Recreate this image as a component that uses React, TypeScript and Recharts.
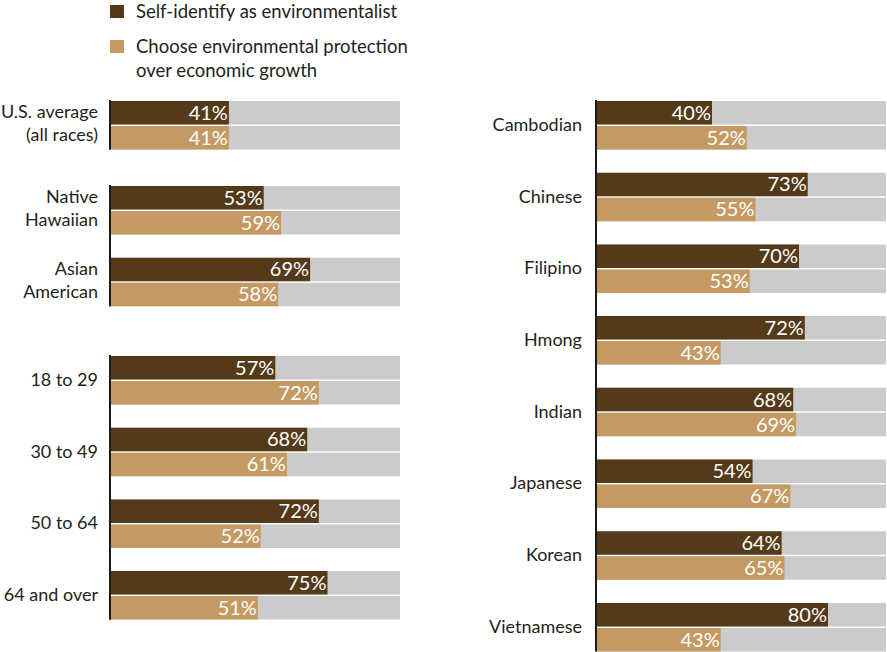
import { BarChart, Bar, XAxis, YAxis, LabelList } from 'recharts';

// series
const seriesNames = ['Self-identify as environmentalist', 'Choose environmental protection\nover economic growth'];

// left panel, first block
const usLabels = ['U.S. average\n(all races)'];
const usIdentify = [41];
const usProtect = [41];

// left panel, second block
const raceLabels = ['Native\nHawaiian', 'Asian\nAmerican'];
const raceIdentify = [53, 69];
const raceProtect = [59, 58];

// left panel, age block
const ageLabels = ['18 to 29', '30 to 49', '50 to 64', '64 and over'];
const ageIdentify = [57, 68, 72, 75];
const ageProtect = [72, 61, 52, 51];

// right panel
const originLabels = ['Cambodian', 'Chinese', 'Filipino', 'Hmong', 'Indian', 'Japanese', 'Korean', 'Vietnamese'];
const originIdentify = [40, 73, 70, 72, 68, 54, 64, 80];
const originProtect = [52, 55, 53, 43, 69, 67, 65, 43];

const DARK = '#553a19';
const LIGHT = '#c49a62';
const TRACK = '#cbcbcb';
const INK = '#231f20';
const FONT = 'Lato, "Noto Sans", sans-serif';

const PITCH = 71.7; // distance between groups
const PAD = 11; // pulls the band range out so the axis line only spans the bars
const M = 14;

// eslint-disable-next-line @typescript-eslint/no-explicit-any
const CategoryTick = (props: any) => {
  const { x, y, payload } = props;
  const lines = String(payload.value).split('\n');
  const first = lines.length > 1 ? -7 : 6;
  return (
    <text x={x} y={y} textAnchor="end" fill={INK} fontSize={18} fontFamily={FONT}>
      {lines.map((l, i) => (
        <tspan key={i} x={x} y={y + first + i * 23}>{l}</tspan>
      ))}
    </text>
  );
};

// eslint-disable-next-line @typescript-eslint/no-explicit-any
const ValueLabel = (props: any) => {
  const { x, y, width, height, value } = props;
  return (
    <text x={x + width - 1} y={y + height / 2 + 7} textAnchor="end" fill="#fff" fontSize={20} fontFamily={FONT}>
      {value}%
    </text>
  );
};

interface PanelProps {
  labels: string[];
  identify: number[];
  protect: number[];
  left: number;
  top: number;
  width: number;
  axisWidth: number;
  tickGap: number;
}

function Panel({ labels, identify, protect, left, top, width, axisWidth, tickGap }: PanelProps) {
  const data = labels.map((label, i) => ({ label, identify: identify[i], protect: protect[i] }));
  const plotH = labels.length * PITCH - 2 * PAD;
  return (
    <div style={{ position: 'absolute', left, top: top - M }}>
      <BarChart
        width={width}
        height={plotH + 2 * M}
        data={data}
        layout="vertical"
        margin={{ top: M, right: 0, bottom: M, left: 0 }}
        barSize={23.5}
        barGap={1.5}
      >
        <XAxis type="number" domain={[0, 100]} hide />
        <Bar dataKey="identify" fill={DARK} background={{ fill: TRACK }} isAnimationActive={false}>
          <LabelList dataKey="identify" content={ValueLabel} />
        </Bar>
        <Bar dataKey="protect" fill={LIGHT} background={{ fill: TRACK }} isAnimationActive={false}>
          <LabelList dataKey="protect" content={ValueLabel} />
        </Bar>
        <YAxis
          type="category"
          dataKey="label"
          width={axisWidth}
          padding={{ top: -PAD, bottom: -PAD }}
          tickLine={false}
          tickSize={0}
          tickMargin={tickGap}
          interval={0}
          axisLine={{ stroke: '#1a1a1a', strokeWidth: 2 }}
          tick={CategoryTick}
        />
      </BarChart>
    </div>
  );
}

export default function App() {
  return (
    <div
      style={{
        position: 'fixed', left: 0, top: 0, width: 887, height: 652,
        overflow: 'hidden', background: '#fff', fontFamily: FONT,
      }}
    >
      {/* legend */}
      <svg style={{ position: 'absolute', left: 100, top: 0 }} width={330} height={90}>
        <rect x={10} y={5} width={14} height={13} fill={DARK} />
        <text x={36} y={18} fill={INK} fontSize={18.5} fontFamily={FONT}>{seriesNames[0]}</text>
        <rect x={10} y={40} width={14} height={13} fill={LIGHT} />
        <text x={36} y={53} fill={INK} fontSize={18.5} fontFamily={FONT}>
          {seriesNames[1].split('\n').map((l, i) => (
            <tspan key={i} x={36} y={53 + i * 24}>{l}</tspan>
          ))}
        </text>
      </svg>

      <Panel labels={usLabels} identify={usIdentify} protect={usProtect}
        left={0} top={100} width={400} axisWidth={110} tickGap={12} />
      <Panel labels={raceLabels} identify={raceIdentify} protect={raceProtect}
        left={0} top={185} width={400} axisWidth={110} tickGap={12} />
      <Panel labels={ageLabels} identify={ageIdentify} protect={ageProtect}
        left={0} top={355} width={400} axisWidth={110} tickGap={12} />
      <Panel labels={originLabels} identify={originIdentify} protect={originProtect}
        left={470} top={100} width={416} axisWidth={126} tickGap={14} />
    </div>
  );
}
